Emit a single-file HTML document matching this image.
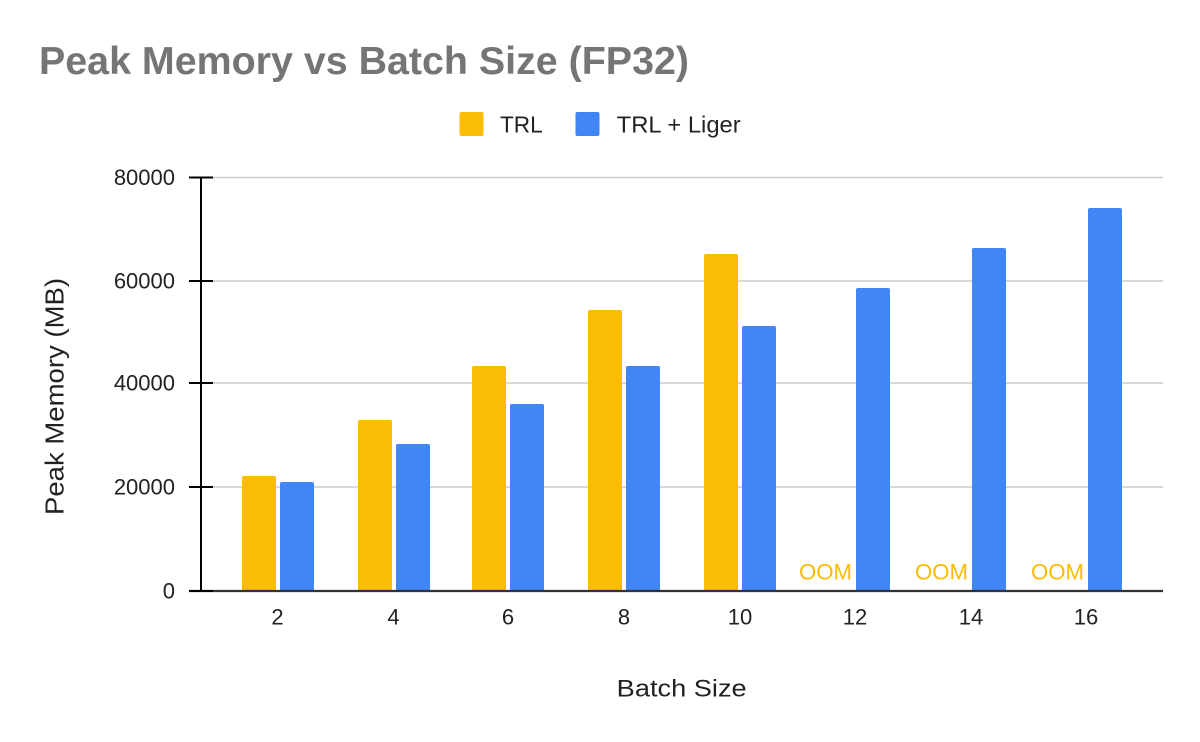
<!DOCTYPE html>
<html>
<head>
<meta charset="utf-8">
<style>
html,body{margin:0;padding:0;background:#fff;}
svg{display:block;}
text{font-family:"Liberation Sans",Arial,sans-serif;}
</style>
</head>
<body>
<svg width="1200" height="742" viewBox="0 0 1200 742" xmlns="http://www.w3.org/2000/svg">
<rect width="1200" height="742" fill="#fff"/>
<!-- Title -->
<text x="39" y="74" font-size="39" font-weight="bold" fill="#757575" textLength="650" lengthAdjust="spacingAndGlyphs">Peak Memory vs Batch Size (FP32)</text>
<!-- Legend -->
<rect x="459.5" y="112" width="24" height="24" rx="2" fill="#fbbc04"/>
<text x="500" y="132.3" font-size="23" fill="#222" textLength="42.7" lengthAdjust="spacingAndGlyphs">TRL</text>
<rect x="575.5" y="112" width="24" height="24" rx="2" fill="#4285f4"/>
<text x="616.7" y="132.3" font-size="23" fill="#222" textLength="124" lengthAdjust="spacingAndGlyphs">TRL + Liger</text>
<!-- Gridlines -->
<g stroke="#cccccc" stroke-width="1.5">
<line x1="213" y1="177.5" x2="1163" y2="177.5"/>
<line x1="213" y1="281" x2="1163" y2="281"/>
<line x1="213" y1="383" x2="1163" y2="383"/>
<line x1="213" y1="487" x2="1163" y2="487"/>
</g>
<!-- Y tick labels -->
<g font-size="22" fill="#222" text-anchor="end">
<text x="175" y="185">80000</text>
<text x="175" y="288.5">60000</text>
<text x="175" y="390.5">40000</text>
<text x="175" y="494.5">20000</text>
<text x="175" y="598.5">0</text>
</g>
<!-- Y axis title -->
<text transform="translate(63.5,396.5) rotate(-90)" font-size="26" fill="#222" text-anchor="middle" textLength="237" lengthAdjust="spacingAndGlyphs">Peak Memory (MB)</text>
<!-- Bars TRL -->
<g fill="#fbbc04">
<path d="M242 591 V478 a2 2 0 0 1 2 -2 H274 a2 2 0 0 1 2 2 V591 Z"/>
<path d="M358 591 V422 a2 2 0 0 1 2 -2 H390 a2 2 0 0 1 2 2 V591 Z"/>
<path d="M472 591 V368 a2 2 0 0 1 2 -2 H504 a2 2 0 0 1 2 2 V591 Z"/>
<path d="M588 591 V312 a2 2 0 0 1 2 -2 H620 a2 2 0 0 1 2 2 V591 Z"/>
<path d="M704 591 V256 a2 2 0 0 1 2 -2 H736 a2 2 0 0 1 2 2 V591 Z"/>
</g>
<!-- Bars TRL + Liger -->
<g fill="#4285f4">
<path d="M280 591 V484 a2 2 0 0 1 2 -2 H312 a2 2 0 0 1 2 2 V591 Z"/>
<path d="M396 591 V446 a2 2 0 0 1 2 -2 H428 a2 2 0 0 1 2 2 V591 Z"/>
<path d="M510 591 V406 a2 2 0 0 1 2 -2 H542 a2 2 0 0 1 2 2 V591 Z"/>
<path d="M626 591 V368 a2 2 0 0 1 2 -2 H658 a2 2 0 0 1 2 2 V591 Z"/>
<path d="M742 591 V328 a2 2 0 0 1 2 -2 H774 a2 2 0 0 1 2 2 V591 Z"/>
<path d="M856 591 V290 a2 2 0 0 1 2 -2 H888 a2 2 0 0 1 2 2 V591 Z"/>
<path d="M972 591 V250 a2 2 0 0 1 2 -2 H1004 a2 2 0 0 1 2 2 V591 Z"/>
<path d="M1088 591 V210 a2 2 0 0 1 2 -2 H1120 a2 2 0 0 1 2 2 V591 Z"/>
</g>
<!-- OOM labels -->
<g font-size="22" fill="#fbbc04" text-anchor="end">
<text x="852" y="579.5" textLength="53" lengthAdjust="spacingAndGlyphs">OOM</text>
<text x="968" y="579.5" textLength="53" lengthAdjust="spacingAndGlyphs">OOM</text>
<text x="1084" y="579.5" textLength="53" lengthAdjust="spacingAndGlyphs">OOM</text>
</g>
<!-- Axes -->
<line x1="189" y1="591" x2="1163" y2="591" stroke="#333" stroke-width="2.2"/>
<line x1="201" y1="177" x2="201" y2="591" stroke="#000" stroke-width="2"/>
<g stroke="#000" stroke-width="2">
<line x1="189" y1="177.5" x2="213" y2="177.5"/>
<line x1="189" y1="281" x2="213" y2="281"/>
<line x1="189" y1="383" x2="213" y2="383"/>
<line x1="189" y1="487" x2="213" y2="487"/>
<line x1="189" y1="591" x2="213" y2="591"/>
</g>
<!-- X tick labels -->
<g font-size="22" fill="#222" text-anchor="middle">
<text x="277.5" y="624.5">2</text>
<text x="393.5" y="624.5">4</text>
<text x="508" y="624.5">6</text>
<text x="624" y="624.5">8</text>
<text x="740" y="624.5">10</text>
<text x="855" y="624.5">12</text>
<text x="971" y="624.5">14</text>
<text x="1086" y="624.5">16</text>
</g>
<!-- X axis title -->
<text x="681.7" y="696.7" font-size="24" fill="#222" text-anchor="middle" textLength="130" lengthAdjust="spacingAndGlyphs">Batch Size</text>
</svg>
</body>
</html>
